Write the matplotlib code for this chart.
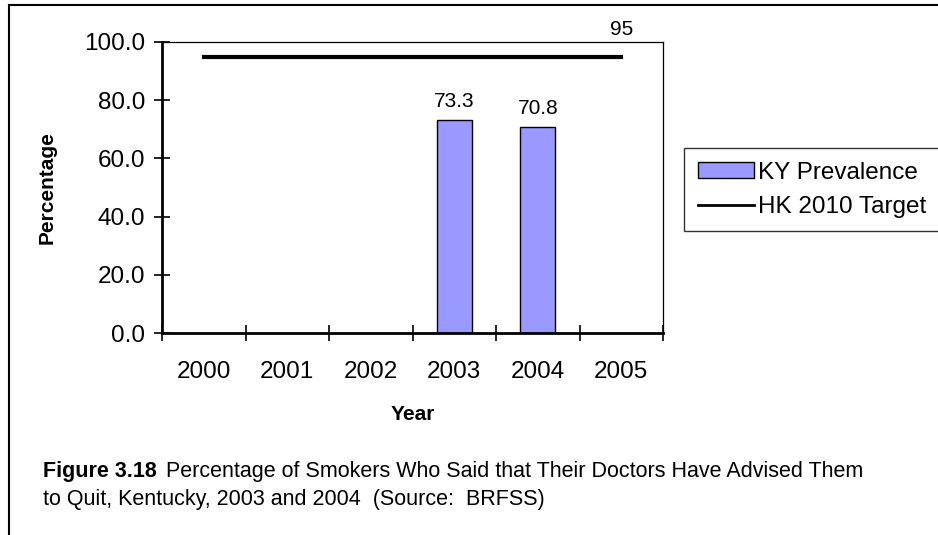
import matplotlib
matplotlib.use("Agg")
import matplotlib.pyplot as plt
import numpy as np
from matplotlib.lines import Line2D
from matplotlib.patches import Patch

plt.rcParams['font.family'] = ['Liberation Sans', 'DejaVu Sans']

# data
years = ['2000', '2001', '2002', '2003', '2004', '2005']
ky_prevalence = [np.nan, np.nan, np.nan, 73.3, 70.8, np.nan]
hk_target = [95, 95, 95, 95, 95, 95]
y_ticks = [0, 20, 40, 60, 80, 100]

W, H = 938, 535
fig = plt.figure(figsize=(W / 100, H / 100), dpi=100)

# outer frame (only left and top edges are visible)
fig.add_artist(Line2D([9 / W, 9 / W], [0, 1 - 5 / H], transform=fig.transFigure, color='black', lw=1.5))
fig.add_artist(Line2D([9 / W, 1], [1 - 5 / H, 1 - 5 / H], transform=fig.transFigure, color='black', lw=1.5))

ax = fig.add_axes([162 / W, 1 - 333 / H, 501 / W, (333 - 42) / H])

x = np.arange(len(years))
ax.bar(x, ky_prevalence, width=0.42, color='#9999ff', edgecolor='black', linewidth=1)
ax.plot(x, hk_target, color='black', lw=3)

# value labels
for xi, v in zip(x, ky_prevalence):
    if not np.isnan(v):
        ax.annotate('%.1f' % v, (xi, v), xytext=(0, 9), textcoords='offset points',
                    ha='center', va='baseline', fontsize=15)
ax.annotate('%d' % hk_target[-1], (x[-1], hk_target[-1]), xytext=(0, 15.5), textcoords='offset points',
            ha='center', va='baseline', fontsize=15)

ax.set_xlim(-0.5, len(years) - 0.5)
ax.set_ylim(0, 100)
ax.set_yticks(y_ticks)
ax.set_yticklabels(['%.1f' % t for t in y_ticks], fontsize=17.5)
ax.tick_params(axis='y', direction='inout', length=12, width=1.2, pad=6)

# ticks between the categories, labels at the centres
ax.set_xticks(np.arange(len(years) + 1) - 0.5)
ax.set_xticklabels([])
ax.tick_params(axis='x', which='major', direction='inout', length=12, width=1.2)
ax.set_xticks(x, minor=True)
ax.set_xticklabels(years, minor=True, fontsize=17.5)
ax.tick_params(axis='x', which='minor', length=0, pad=20)

for side in ['left', 'bottom']:
    ax.spines[side].set_linewidth(2)
for side in ['top', 'right']:
    ax.spines[side].set_linewidth(0.9)

fig.text(412.5 / W, 1 - 415 / H, 'Year', fontsize=15, fontweight='bold', ha='center', va='center')
fig.text(47 / W, 1 - 187.5 / H, 'Percentage', fontsize=15, fontweight='bold', rotation=90,
         ha='center', va='center')

handles = [Patch(facecolor='#9999ff', edgecolor='black', label='KY Prevalence'),
           Line2D([0], [0], color='black', lw=2, label='HK 2010 Target')]
leg = fig.legend(handles=handles, loc='upper left', bbox_to_anchor=(684 / W, 1 - 148 / H),
                 fontsize=17.5, frameon=True, fancybox=False, borderaxespad=0,
                 handlelength=2.3, handleheight=0.6, handletextpad=0.2, borderpad=0.56,
                 labelspacing=0.5)
leg.get_frame().set_edgecolor('black')
leg.get_frame().set_linewidth(1)

# caption: bold figure number followed by normal text
cap_bold = fig.text(43 / W, 1 - 472 / H, 'Figure 3.18', fontsize=15.5, fontweight='bold',
                    va='center', ha='left')
renderer = fig.canvas.get_renderer()
bb = cap_bold.get_window_extent(renderer=renderer)
fig.text((bb.x1 + 9) / W, 1 - 472 / H,
         'Percentage of Smokers Who Said that Their Doctors Have Advised Them',
         fontsize=15.5, va='center', ha='left')
fig.text(43 / W, 1 - 500 / H, 'to Quit, Kentucky, 2003 and 2004  (Source:  BRFSS)',
         fontsize=15.5, va='center', ha='left')

fig.savefig('out.png', dpi=100)
